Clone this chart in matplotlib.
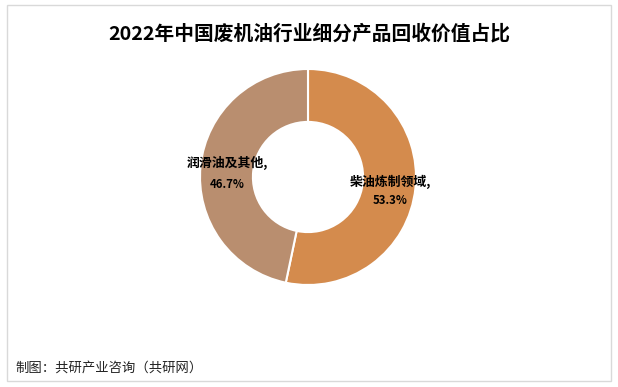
import matplotlib
matplotlib.use("Agg")
import matplotlib.pyplot as plt
from matplotlib.patches import Rectangle

plt.rcParams['font.family'] = ['Noto Sans CJK SC', 'DejaVu Sans']

title = "2022年中国废机油行业细分产品回收价值占比"
categories = ["柴油炼制领域", "润滑油及其他"]
values = [53.3, 46.7]
colors = ["#D48B4D", "#B98E6F"]
footer = "制图：共研产业咨询（共研网）"

W, H = 618, 387
fig = plt.figure(figsize=(W / 100, H / 100), dpi=100)

# frame
fig.patches.append(Rectangle((7 / W, (H - 381) / H), (611 - 7) / W, (381 - 5) / H,
                             transform=fig.transFigure, fill=False,
                             edgecolor="#D9D9D9", linewidth=1.0))

cx, cy, r = 308, 177, 108
ax = fig.add_axes([(cx - r) / W, (H - cy - r) / H, 2 * r / W, 2 * r / H])
wedges, _ = ax.pie(values, colors=colors, startangle=90, counterclock=False,
                   radius=1.0, wedgeprops=dict(width=0.49, edgecolor="white", linewidth=1.5))
ax.set_xlim(-1, 1)
ax.set_ylim(-1, 1)
ax.set_aspect("equal")
ax.axis("off")

label_pos = [((0.76, -0.046), (0.76, -0.222)), ((-0.75, 0.13), (-0.75, -0.065))]
for ((x1, y1), (x2, y2)), name, v in zip(label_pos, categories, values):
    ax.text(x1, y1, name + ",", ha="center", va="center", fontsize=9.3, fontweight="bold", color="black")
    ax.text(x2, y2, f"{v:.1f}%", ha="center", va="center", fontsize=8.2, fontweight="bold", color="black")

fig.text(0.5, (H - 34) / H, title, ha="center", va="center", fontsize=14.2, fontweight="bold")
fig.text(15 / W, (H - 368) / H, footer, ha="left", va="center", fontsize=9.6, color="#222222")

fig.savefig("out.png", dpi=100)
